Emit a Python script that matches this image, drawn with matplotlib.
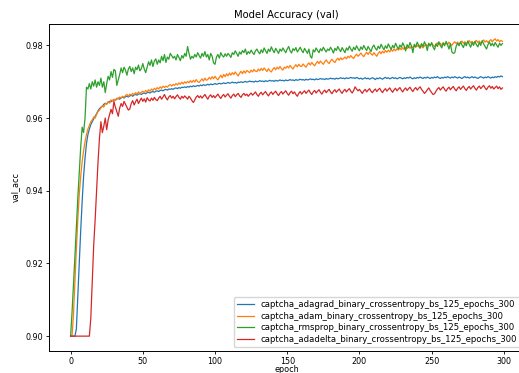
import numpy as np
import matplotlib
matplotlib.use("Agg")
import matplotlib.pyplot as plt

# validation accuracy per epoch
acc_rmsprop = [
    0.9000, 0.9065, 0.9140, 0.9220, 0.9300, 0.9380, 0.9450, 0.9520, 0.9575, 0.9560,
    0.9600, 0.9685, 0.9680, 0.9695, 0.9680, 0.9700, 0.9688, 0.9705, 0.9685, 0.9700,
    0.9690, 0.9710, 0.9685, 0.9700, 0.9670, 0.9695, 0.9715, 0.9705, 0.9728, 0.9712,
    0.9734, 0.9730, 0.9690, 0.9705, 0.9720, 0.9738, 0.9725, 0.9740, 0.9732, 0.9718,
    0.9735, 0.9742, 0.9728, 0.9738, 0.9722, 0.9740, 0.9733, 0.9746, 0.9730, 0.9736,
    0.9750, 0.9735, 0.9725, 0.9740, 0.9755, 0.9745, 0.9760, 0.9742, 0.9757, 0.9763,
    0.9748, 0.9760, 0.9752, 0.9770, 0.9758, 0.9775, 0.9753, 0.9768, 0.9762, 0.9778,
    0.9772, 0.9765, 0.9770, 0.9760, 0.9775, 0.9767, 0.9758, 0.9772, 0.9765, 0.9778,
    0.9770, 0.9797, 0.9778, 0.9762, 0.9770, 0.9765, 0.9775, 0.9768, 0.9780, 0.9772,
    0.9765, 0.9778, 0.9770, 0.9783, 0.9768, 0.9775, 0.9760, 0.9778, 0.9770, 0.9752,
    0.9748, 0.9768, 0.9775, 0.9765, 0.9780, 0.9772, 0.9768, 0.9777, 0.9770, 0.9778,
    0.9773, 0.9767, 0.9780, 0.9775, 0.9785, 0.9778, 0.9770, 0.9782, 0.9776, 0.9786,
    0.9780, 0.9790, 0.9775, 0.9783, 0.9778, 0.9787, 0.9780, 0.9775, 0.9785, 0.9790,
    0.9782, 0.9777, 0.9788, 0.9780, 0.9793, 0.9785, 0.9778, 0.9790, 0.9783, 0.9796,
    0.9787, 0.9780, 0.9792, 0.9785, 0.9778, 0.9790, 0.9784, 0.9793, 0.9786, 0.9780,
    0.9790, 0.9797, 0.9785, 0.9779, 0.9791, 0.9786, 0.9794, 0.9782, 0.9788, 0.9795,
    0.9786, 0.9780, 0.9792, 0.9785, 0.9778, 0.9790, 0.9770, 0.9765, 0.9788, 0.9782,
    0.9793, 0.9786, 0.9780, 0.9791, 0.9785, 0.9795, 0.9788, 0.9782, 0.9790, 0.9786,
    0.9795, 0.9788, 0.9779, 0.9792, 0.9786, 0.9797, 0.9789, 0.9783, 0.9794, 0.9787,
    0.9780, 0.9793, 0.9787, 0.9798, 0.9790, 0.9784, 0.9795, 0.9788, 0.9799, 0.9791,
    0.9785, 0.9796, 0.9789, 0.9800, 0.9792, 0.9786, 0.9797, 0.9790, 0.9783, 0.9795,
    0.9801, 0.9792, 0.9787, 0.9798, 0.9791, 0.9803, 0.9795, 0.9788, 0.9799, 0.9792,
    0.9804, 0.9796, 0.9789, 0.9800, 0.9793, 0.9806, 0.9797, 0.9790, 0.9801, 0.9795,
    0.9807, 0.9798, 0.9785, 0.9802, 0.9794, 0.9808, 0.9799, 0.9780, 0.9803, 0.9796,
    0.9809, 0.9800, 0.9792, 0.9805, 0.9797, 0.9810, 0.9801, 0.9786, 0.9806, 0.9798,
    0.9808, 0.9795, 0.9788, 0.9804, 0.9797, 0.9810, 0.9800, 0.9793, 0.9806, 0.9799,
    0.9811, 0.9802, 0.9790, 0.9805, 0.9782, 0.9778, 0.9780, 0.9798, 0.9806, 0.9799,
    0.9810, 0.9801, 0.9794, 0.9807, 0.9799, 0.9812, 0.9803, 0.9795, 0.9808, 0.9800,
    0.9811, 0.9802, 0.9796, 0.9808, 0.9800, 0.9813, 0.9804, 0.9797, 0.9790, 0.9802,
    0.9810, 0.9799, 0.9806, 0.9798, 0.9808, 0.9801, 0.9795, 0.9806, 0.9800, 0.9805,
]

acc_adam = [
    0.9000, 0.9000, 0.9060, 0.9150, 0.9240, 0.9320, 0.9390, 0.9440, 0.9480, 0.9510,
    0.9535, 0.9555, 0.9570, 0.9580, 0.9590, 0.9595, 0.9603, 0.9600, 0.9610, 0.9618,
    0.9622, 0.9628, 0.9634, 0.9630, 0.9640, 0.9638, 0.9645, 0.9641, 0.9650, 0.9647,
    0.9652, 0.9649, 0.9655, 0.9652, 0.9658, 0.9655, 0.9660, 0.9657, 0.9662, 0.9665,
    0.9660, 0.9666, 0.9663, 0.9668, 0.9664, 0.9670, 0.9666, 0.9672, 0.9668, 0.9671,
    0.9674, 0.9670, 0.9676, 0.9672, 0.9678, 0.9674, 0.9680, 0.9676, 0.9682, 0.9678,
    0.9684, 0.9680, 0.9686, 0.9682, 0.9688, 0.9684, 0.9688, 0.9685, 0.9690, 0.9692,
    0.9688, 0.9693, 0.9690, 0.9695, 0.9691, 0.9697, 0.9693, 0.9699, 0.9694, 0.9700,
    0.9696, 0.9701, 0.9697, 0.9703, 0.9698, 0.9704, 0.9699, 0.9706, 0.9700, 0.9698,
    0.9703, 0.9708, 0.9702, 0.9710, 0.9704, 0.9706, 0.9712, 0.9707, 0.9714, 0.9708,
    0.9715, 0.9709, 0.9705, 0.9712, 0.9718, 0.9711, 0.9720, 0.9714, 0.9722, 0.9716,
    0.9724, 0.9718, 0.9725, 0.9720, 0.9727, 0.9721, 0.9716, 0.9723, 0.9729, 0.9722,
    0.9730, 0.9724, 0.9731, 0.9728, 0.9725, 0.9732, 0.9727, 0.9734, 0.9729, 0.9728,
    0.9735, 0.9730, 0.9737, 0.9731, 0.9738, 0.9733, 0.9728, 0.9736, 0.9730, 0.9727,
    0.9734, 0.9739, 0.9733, 0.9740, 0.9735, 0.9742, 0.9736, 0.9732, 0.9740, 0.9737,
    0.9743, 0.9738, 0.9745, 0.9739, 0.9735, 0.9742, 0.9747, 0.9741, 0.9748, 0.9743,
    0.9742, 0.9749, 0.9744, 0.9740, 0.9747, 0.9752, 0.9746, 0.9753, 0.9748, 0.9744,
    0.9751, 0.9756, 0.9750, 0.9757, 0.9752, 0.9748, 0.9755, 0.9760, 0.9754, 0.9750,
    0.9757, 0.9762, 0.9756, 0.9753, 0.9760, 0.9765, 0.9759, 0.9766, 0.9761, 0.9764,
    0.9768, 0.9763, 0.9770, 0.9766, 0.9772, 0.9767, 0.9764, 0.9771, 0.9776, 0.9770,
    0.9774, 0.9779, 0.9773, 0.9769, 0.9776, 0.9781, 0.9775, 0.9782, 0.9777, 0.9773,
    0.9780, 0.9775, 0.9770, 0.9778, 0.9783, 0.9777, 0.9784, 0.9779, 0.9786, 0.9781,
    0.9787, 0.9782, 0.9789, 0.9784, 0.9790, 0.9785, 0.9791, 0.9787, 0.9793, 0.9788,
    0.9794, 0.9789, 0.9795, 0.9791, 0.9796, 0.9792, 0.9798, 0.9793, 0.9799, 0.9795,
    0.9800, 0.9796, 0.9801, 0.9797, 0.9793, 0.9799, 0.9803, 0.9798, 0.9804, 0.9800,
    0.9805, 0.9801, 0.9797, 0.9803, 0.9807, 0.9802, 0.9806, 0.9800, 0.9808, 0.9803,
    0.9807, 0.9802, 0.9809, 0.9804, 0.9800, 0.9806, 0.9810, 0.9805, 0.9809, 0.9803,
    0.9808, 0.9812, 0.9806, 0.9810, 0.9804, 0.9809, 0.9813, 0.9807, 0.9811, 0.9806,
    0.9810, 0.9814, 0.9808, 0.9812, 0.9806, 0.9811, 0.9815, 0.9809, 0.9813, 0.9808,
    0.9812, 0.9816, 0.9810, 0.9815, 0.9818, 0.9812, 0.9816, 0.9810, 0.9814, 0.9811,
]

acc_adagrad = [
    0.9000, 0.9000, 0.9000, 0.9000, 0.9020, 0.9110, 0.9200, 0.9290, 0.9370, 0.9440,
    0.9490, 0.9530, 0.9555, 0.9570, 0.9582, 0.9590, 0.9598, 0.9605, 0.9612, 0.9620,
    0.9626, 0.9630, 0.9633, 0.9638, 0.9641, 0.9639, 0.9644, 0.9646, 0.9645, 0.9648,
    0.9651, 0.9649, 0.9653, 0.9655, 0.9652, 0.9656, 0.9658, 0.9655, 0.9659, 0.9660,
    0.9658, 0.9661, 0.9663, 0.9660, 0.9664, 0.9665, 0.9663, 0.9666, 0.9667, 0.9665,
    0.9668, 0.9669, 0.9667, 0.9670, 0.9671, 0.9669, 0.9672, 0.9673, 0.9671, 0.9674,
    0.9675, 0.9673, 0.9676, 0.9677, 0.9675, 0.9678, 0.9679, 0.9677, 0.9680, 0.9679,
    0.9681, 0.9679, 0.9682, 0.9683, 0.9681, 0.9684, 0.9682, 0.9685, 0.9684, 0.9686,
    0.9684, 0.9687, 0.9685, 0.9688, 0.9686, 0.9689, 0.9687, 0.9688, 0.9690, 0.9688,
    0.9691, 0.9689, 0.9692, 0.9690, 0.9691, 0.9693, 0.9691, 0.9694, 0.9692, 0.9693,
    0.9695, 0.9693, 0.9694, 0.9696, 0.9694, 0.9695, 0.9697, 0.9695, 0.9696, 0.9698,
    0.9696, 0.9697, 0.9699, 0.9697, 0.9698, 0.9696, 0.9699, 0.9698, 0.9700, 0.9698,
    0.9699, 0.9701, 0.9699, 0.9700, 0.9702, 0.9700, 0.9701, 0.9699, 0.9702, 0.9700,
    0.9701, 0.9703, 0.9701, 0.9702, 0.9700, 0.9703, 0.9701, 0.9702, 0.9704, 0.9702,
    0.9703, 0.9701, 0.9704, 0.9702, 0.9703, 0.9705, 0.9703, 0.9704, 0.9702, 0.9705,
    0.9703, 0.9704, 0.9706, 0.9704, 0.9705, 0.9703, 0.9706, 0.9704, 0.9705, 0.9707,
    0.9705, 0.9706, 0.9704, 0.9707, 0.9705, 0.9706, 0.9708, 0.9706, 0.9707, 0.9705,
    0.9708, 0.9706, 0.9707, 0.9709, 0.9707, 0.9708, 0.9706, 0.9709, 0.9707, 0.9708,
    0.9710, 0.9708, 0.9709, 0.9707, 0.9710, 0.9708, 0.9709, 0.9711, 0.9709, 0.9710,
    0.9708, 0.9711, 0.9709, 0.9710, 0.9712, 0.9710, 0.9711, 0.9709, 0.9712, 0.9710,
    0.9708, 0.9710, 0.9707, 0.9709, 0.9711, 0.9708, 0.9710, 0.9707, 0.9709, 0.9711,
    0.9709, 0.9706, 0.9710, 0.9708, 0.9711, 0.9709, 0.9707, 0.9710, 0.9712, 0.9709,
    0.9711, 0.9708, 0.9710, 0.9712, 0.9709, 0.9711, 0.9708, 0.9710, 0.9712, 0.9710,
    0.9708, 0.9711, 0.9709, 0.9712, 0.9710, 0.9713, 0.9710, 0.9708, 0.9711, 0.9709,
    0.9712, 0.9710, 0.9713, 0.9711, 0.9709, 0.9712, 0.9710, 0.9713, 0.9711, 0.9709,
    0.9712, 0.9710, 0.9713, 0.9711, 0.9714, 0.9711, 0.9709, 0.9712, 0.9710, 0.9713,
    0.9711, 0.9714, 0.9712, 0.9710, 0.9713, 0.9711, 0.9714, 0.9712, 0.9710, 0.9713,
    0.9711, 0.9709, 0.9712, 0.9714, 0.9711, 0.9713, 0.9710, 0.9712, 0.9714, 0.9711,
    0.9713, 0.9711, 0.9709, 0.9712, 0.9714, 0.9712, 0.9710, 0.9713, 0.9711, 0.9714,
    0.9712, 0.9710, 0.9713, 0.9711, 0.9714, 0.9712, 0.9715, 0.9713, 0.9716, 0.9714,
]

acc_adadelta = [
    0.9000, 0.9000, 0.9000, 0.9000, 0.9000, 0.9000, 0.9000, 0.9000, 0.9000, 0.9000,
    0.9000, 0.9000, 0.9000, 0.9000, 0.9050, 0.9150, 0.9250, 0.9320, 0.9400, 0.9480,
    0.9545, 0.9590, 0.9560, 0.9578, 0.9600, 0.9568, 0.9595, 0.9610, 0.9624, 0.9612,
    0.9646, 0.9630, 0.9618, 0.9605, 0.9628, 0.9640, 0.9632, 0.9646, 0.9638, 0.9630,
    0.9622, 0.9625, 0.9640, 0.9648, 0.9636, 0.9645, 0.9652, 0.9640, 0.9648, 0.9655,
    0.9646, 0.9653, 0.9644, 0.9656, 0.9650, 0.9647, 0.9655, 0.9649, 0.9657, 0.9651,
    0.9648, 0.9655, 0.9660, 0.9652, 0.9658, 0.9665, 0.9656, 0.9650, 0.9658, 0.9662,
    0.9655, 0.9660, 0.9653, 0.9659, 0.9664, 0.9657, 0.9652, 0.9660, 0.9655, 0.9661,
    0.9657, 0.9652, 0.9660, 0.9655, 0.9648, 0.9643, 0.9650, 0.9658, 0.9662, 0.9656,
    0.9661, 0.9655, 0.9660, 0.9665, 0.9658, 0.9652, 0.9660, 0.9664, 0.9657, 0.9662,
    0.9656, 0.9661, 0.9666, 0.9659, 0.9654, 0.9661, 0.9665, 0.9658, 0.9663, 0.9667,
    0.9660, 0.9655, 0.9662, 0.9666, 0.9659, 0.9664, 0.9668, 0.9661, 0.9657, 0.9664,
    0.9668, 0.9662, 0.9666, 0.9660, 0.9665, 0.9669, 0.9663, 0.9667, 0.9672, 0.9665,
    0.9660, 0.9667, 0.9671, 0.9664, 0.9669, 0.9673, 0.9666, 0.9661, 0.9668, 0.9672,
    0.9665, 0.9670, 0.9674, 0.9667, 0.9662, 0.9669, 0.9673, 0.9666, 0.9671, 0.9675,
    0.9668, 0.9663, 0.9670, 0.9674, 0.9667, 0.9672, 0.9665, 0.9660, 0.9668, 0.9673,
    0.9666, 0.9671, 0.9675, 0.9668, 0.9673, 0.9677, 0.9670, 0.9665, 0.9672, 0.9676,
    0.9669, 0.9674, 0.9678, 0.9671, 0.9666, 0.9673, 0.9677, 0.9670, 0.9675, 0.9679,
    0.9672, 0.9667, 0.9674, 0.9678, 0.9671, 0.9676, 0.9680, 0.9673, 0.9668, 0.9675,
    0.9679, 0.9672, 0.9677, 0.9681, 0.9674, 0.9669, 0.9676, 0.9686, 0.9680, 0.9675,
    0.9679, 0.9673, 0.9668, 0.9675, 0.9679, 0.9672, 0.9677, 0.9681, 0.9674, 0.9670,
    0.9676, 0.9680, 0.9673, 0.9678, 0.9682, 0.9675, 0.9670, 0.9677, 0.9681, 0.9674,
    0.9679, 0.9683, 0.9676, 0.9671, 0.9678, 0.9682, 0.9675, 0.9680, 0.9684, 0.9677,
    0.9672, 0.9679, 0.9683, 0.9676, 0.9681, 0.9685, 0.9678, 0.9673, 0.9680, 0.9684,
    0.9677, 0.9682, 0.9686, 0.9679, 0.9674, 0.9668, 0.9672, 0.9678, 0.9683, 0.9676,
    0.9670, 0.9665, 0.9667, 0.9674, 0.9680, 0.9684, 0.9677, 0.9682, 0.9686, 0.9679,
    0.9674, 0.9681, 0.9685, 0.9678, 0.9683, 0.9687, 0.9680, 0.9675, 0.9682, 0.9686,
    0.9679, 0.9684, 0.9688, 0.9681, 0.9676, 0.9683, 0.9687, 0.9680, 0.9685, 0.9689,
    0.9682, 0.9677, 0.9684, 0.9688, 0.9681, 0.9686, 0.9690, 0.9683, 0.9678, 0.9685,
    0.9689, 0.9682, 0.9687, 0.9680, 0.9684, 0.9688, 0.9681, 0.9686, 0.9679, 0.9683,
]

labels = [
    "captcha_adagrad_binary_crossentropy_bs_125_epochs_300",
    "captcha_adam_binary_crossentropy_bs_125_epochs_300",
    "captcha_rmsprop_binary_crossentropy_bs_125_epochs_300",
    "captcha_adadelta_binary_crossentropy_bs_125_epochs_300",
]
series = [acc_adagrad, acc_adam, acc_rmsprop, acc_adadelta]
colors = ["#1f77b4", "#ff7f0e", "#2ca02c", "#d62728"]

fig = plt.figure(figsize=(5.19, 3.73), dpi=100)
ax = fig.add_axes([49 / 519, 22 / 373, 475 / 519, 327 / 373])

for vals, lab, col in zip(series, labels, colors):
    ax.plot(np.arange(len(vals)), vals, color=col, lw=0.9, label=lab)

ax.set_title("Model Accuracy (val)", fontsize=7.2, pad=4)
ax.set_xlabel("epoch", fontsize=5.8, labelpad=-0.5)
ax.set_ylabel("val_acc", fontsize=5.8, labelpad=4)
ax.set_yticks([0.90, 0.92, 0.94, 0.96, 0.98])
ax.tick_params(labelsize=5.8, length=2.5, width=0.6, pad=1.5)
for s in ax.spines.values():
    s.set_linewidth(0.7)

ax.legend(loc="lower right", fontsize=6.1, handlelength=2.0,
          labelspacing=0.3, borderpad=0.35, framealpha=0.8)

fig.savefig("out.png", dpi=100)
